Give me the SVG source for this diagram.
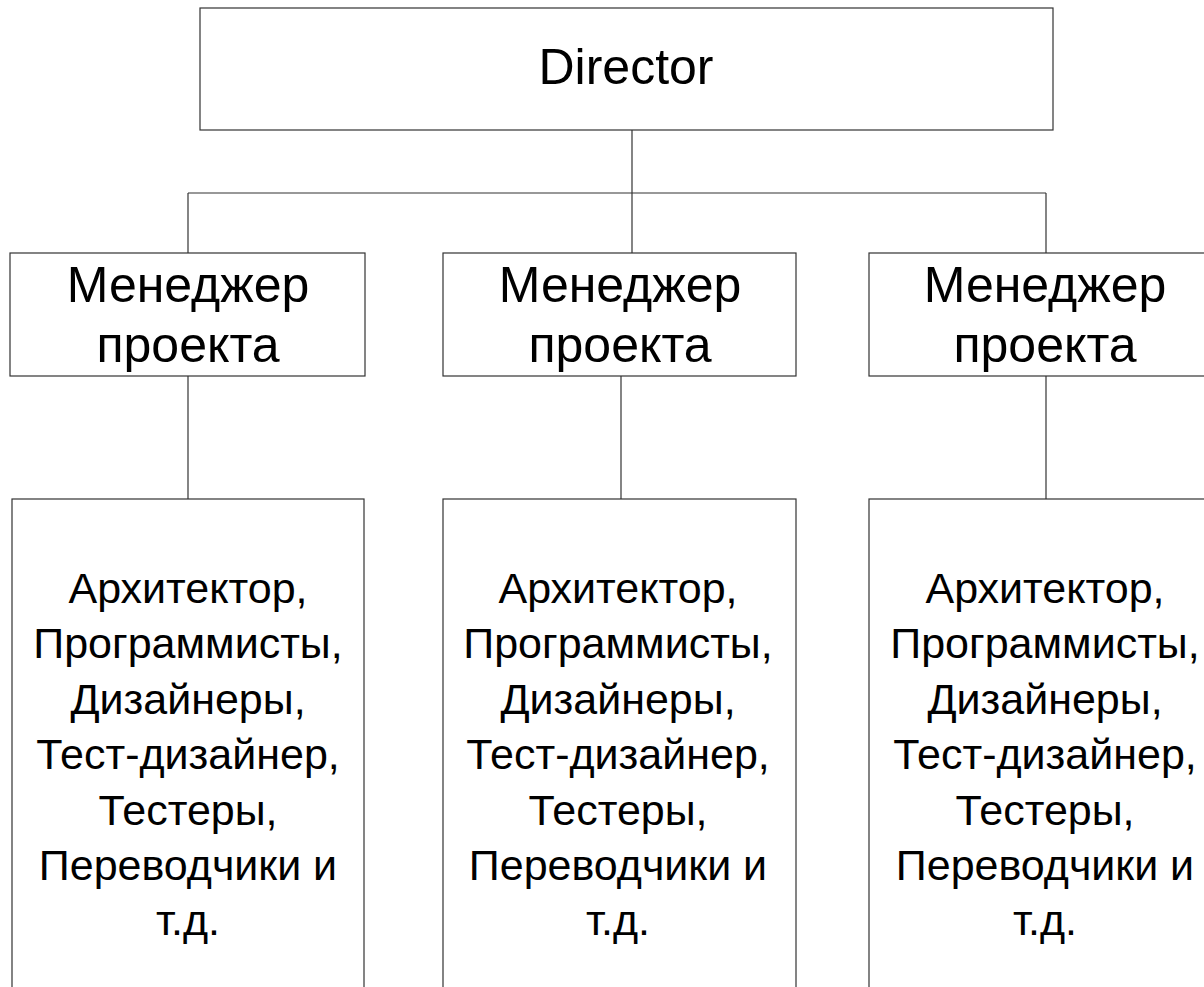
<svg xmlns="http://www.w3.org/2000/svg" width="1204" height="987" viewBox="0 0 1204 987">
<style>
.box{fill:#fff;stroke:#333;stroke-width:1.2}
.conn line{stroke:#333;stroke-width:1.2}
text{font-family:"Liberation Sans",Arial,sans-serif;fill:#000;text-anchor:middle}
.dir{font-size:50px}
.mgr{font-size:50px}
.team{font-size:43px}
</style>
<rect width="1204" height="987" fill="#fff"/>
<g id="connectors" class="conn">
<line x1="632" y1="130" x2="632" y2="253"/>
<line x1="188" y1="193" x2="1046" y2="193"/>
<line x1="188" y1="193" x2="188" y2="253"/>
<line x1="1046" y1="193" x2="1046" y2="253"/>
<line x1="188" y1="376" x2="188" y2="499"/>
<line x1="621" y1="376" x2="621" y2="499"/>
<line x1="1046" y1="376" x2="1046" y2="499"/>
</g>
<g id="director">
<rect class="box" x="200" y="8" width="853" height="122"/>
<text class="dir" x="626" y="84">Director</text>
</g>
<g id="manager1">
<rect class="box" x="10" y="253" width="355" height="123"/>
<text class="mgr" x="188" y="302">Менеджер</text>
<text class="mgr" x="188" y="362">проекта</text>
</g>
<g id="manager2">
<rect class="box" x="443" y="253" width="353" height="123"/>
<text class="mgr" x="620" y="302">Менеджер</text>
<text class="mgr" x="620" y="362">проекта</text>
</g>
<g id="manager3">
<rect class="box" x="869" y="253" width="353" height="123"/>
<text class="mgr" x="1045" y="302">Менеджер</text>
<text class="mgr" x="1045" y="362">проекта</text>
</g>
<g id="team1">
<rect class="box" x="12" y="499" width="352" height="520"/>
<text class="team" x="188" y="603">Архитектор,</text>
<text class="team" x="188" y="658">Программисты,</text>
<text class="team" x="188" y="714">Дизайнеры,</text>
<text class="team" x="188" y="769">Тест-дизайнер,</text>
<text class="team" x="188" y="825">Тестеры,</text>
<text class="team" x="188" y="880">Переводчики и</text>
<text class="team" x="188" y="935">т.д.</text>
</g>
<g id="team2">
<rect class="box" x="443" y="499" width="353" height="520"/>
<text class="team" x="618" y="603">Архитектор,</text>
<text class="team" x="618" y="658">Программисты,</text>
<text class="team" x="618" y="714">Дизайнеры,</text>
<text class="team" x="618" y="769">Тест-дизайнер,</text>
<text class="team" x="618" y="825">Тестеры,</text>
<text class="team" x="618" y="880">Переводчики и</text>
<text class="team" x="618" y="935">т.д.</text>
</g>
<g id="team3">
<rect class="box" x="869" y="499" width="353" height="520"/>
<text class="team" x="1045" y="603">Архитектор,</text>
<text class="team" x="1045" y="658">Программисты,</text>
<text class="team" x="1045" y="714">Дизайнеры,</text>
<text class="team" x="1045" y="769">Тест-дизайнер,</text>
<text class="team" x="1045" y="825">Тестеры,</text>
<text class="team" x="1045" y="880">Переводчики и</text>
<text class="team" x="1045" y="935">т.д.</text>
</g>
</svg>
